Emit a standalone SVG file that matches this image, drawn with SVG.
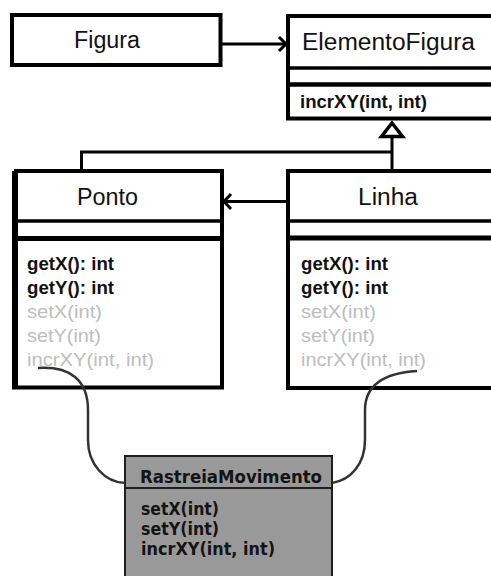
<svg xmlns="http://www.w3.org/2000/svg" width="491" height="576" viewBox="0 0 491 576">
  <defs>
    <style>
      .box { fill: #ffffff; stroke: #000000; stroke-width: 4; }
      .sep { stroke: #000000; }
      .title { font-family: "Liberation Sans", Arial, sans-serif; font-size: 23px; fill: #111111; }
      .op { font-family: "Liberation Sans", Arial, sans-serif; font-size: 19px; fill: #111111; font-weight: bold; }
      .op-dim { font-family: "Liberation Sans", Arial, sans-serif; font-size: 19px; fill: #bdbdbd; }
      .aspect { fill: #999999; stroke: #1e1e1e; stroke-width: 2; }
      .aspect-text { font-family: "DejaVu Sans", Verdana, sans-serif; font-weight: bold; fill: #141414; }
      .line { fill: none; stroke: #000000; stroke-width: 3; }
      .arrow { fill: none; stroke: #000000; stroke-width: 3; stroke-linejoin: miter; }
      .cut { fill: none; stroke: #333333; stroke-width: 2.5; }
    </style>
  </defs>

  <rect width="491" height="576" fill="#ffffff"/>

  <!-- Figura class -->
  <g id="figura">
    <rect class="box" x="12" y="15" width="208.5" height="50"/>
    <text class="title" x="74" y="48" textLength="66" lengthAdjust="spacingAndGlyphs">Figura</text>
  </g>

  <!-- ElementoFigura class -->
  <g id="elemento-figura">
    <rect class="box" x="288" y="16" width="215" height="102.5" stroke-width="4.5"/>
    <line class="sep" x1="288" y1="68" x2="503" y2="68" stroke-width="3.5"/>
    <line class="sep" x1="288" y1="84.5" x2="503" y2="84.5" stroke-width="4.5"/>
    <text class="title" x="302" y="50" textLength="173" lengthAdjust="spacingAndGlyphs">ElementoFigura</text>
    <text class="op" x="300" y="108" textLength="127" lengthAdjust="spacingAndGlyphs">incrXY(int, int)</text>
  </g>

  <!-- Ponto class -->
  <g id="ponto">
    <rect class="box" x="16" y="171" width="206" height="216.5"/>
    <line class="sep" x1="13" y1="171" x2="13" y2="389.5" stroke-width="2"/>
    <line class="sep" x1="16" y1="221" x2="222" y2="221" stroke-width="3.5"/>
    <line class="sep" x1="16" y1="238.5" x2="222" y2="238.5" stroke-width="5"/>
    <text class="title" x="77" y="205" textLength="61" lengthAdjust="spacingAndGlyphs">Ponto</text>
    <text class="op" x="27" y="270" textLength="87" lengthAdjust="spacingAndGlyphs">getX(): int</text>
    <text class="op" x="27" y="294" textLength="87" lengthAdjust="spacingAndGlyphs">getY(): int</text>
    <text class="op-dim" x="27" y="318" textLength="75" lengthAdjust="spacingAndGlyphs">setX(int)</text>
    <text class="op-dim" x="27" y="342" textLength="74" lengthAdjust="spacingAndGlyphs">setY(int)</text>
    <text class="op-dim" x="27" y="366" textLength="127" lengthAdjust="spacingAndGlyphs">incrXY(int, int)</text>
  </g>

  <!-- Linha class -->
  <g id="linha">
    <rect class="box" x="288" y="171" width="215" height="217"/>
    <line class="sep" x1="288" y1="221" x2="503" y2="221" stroke-width="3.5"/>
    <line class="sep" x1="288" y1="238" x2="503" y2="238" stroke-width="5"/>
    <text class="title" x="358" y="205" textLength="60" lengthAdjust="spacingAndGlyphs">Linha</text>
    <text class="op" x="301" y="270" textLength="87" lengthAdjust="spacingAndGlyphs">getX(): int</text>
    <text class="op" x="301" y="294" textLength="87" lengthAdjust="spacingAndGlyphs">getY(): int</text>
    <text class="op-dim" x="301" y="318" textLength="75" lengthAdjust="spacingAndGlyphs">setX(int)</text>
    <text class="op-dim" x="301" y="342" textLength="74" lengthAdjust="spacingAndGlyphs">setY(int)</text>
    <text class="op-dim" x="301" y="366" textLength="125" lengthAdjust="spacingAndGlyphs">incrXY(int, int)</text>
  </g>

  <!-- RastreiaMovimento aspect -->
  <g id="rastreia-movimento">
    <rect class="aspect" x="125" y="456" width="207" height="130"/>
    <line x1="125" y1="488" x2="332" y2="488" stroke="#1e1e1e" stroke-width="2"/>
    <text class="aspect-text" x="140" y="483" font-size="18" textLength="182" lengthAdjust="spacingAndGlyphs">RastreiaMovimento</text>
    <text class="aspect-text" x="141" y="515" font-size="17" textLength="78" lengthAdjust="spacingAndGlyphs">setX(int)</text>
    <text class="aspect-text" x="141" y="535" font-size="17" textLength="78" lengthAdjust="spacingAndGlyphs">setY(int)</text>
    <text class="aspect-text" x="141" y="555" font-size="17" textLength="134" lengthAdjust="spacingAndGlyphs">incrXY(int, int)</text>
  </g>

  <!-- Connectors -->
  <g id="connectors">
    <!-- Figura -> ElementoFigura association -->
    <line class="line" x1="221" y1="44" x2="285" y2="44"/>
    <polyline class="arrow" points="279,37 286,44 279,51"/>

    <!-- Linha -> Ponto association -->
    <line class="line" x1="286" y1="201.5" x2="225" y2="201.5"/>
    <polyline class="arrow" points="231,194 224,201.5 231,209"/>

    <!-- Generalization to ElementoFigura -->
    <path class="line" d="M 392 169 V 137 M 393.5 152 H 81.5 V 169"/>
    <polygon points="392,123 381.5,136.5 402.5,136.5" fill="#ffffff" stroke="#000000" stroke-width="3.5" stroke-linejoin="miter"/>

    <!-- Aspect crosscut curves -->
    <path class="cut" d="M 38 368 C 70 366, 88 380, 88 410 L 88 440 C 88 465, 105 482, 125 483"/>
    <path class="cut" d="M 417 371 C 385 373, 365 385, 365 410 L 365 440 C 365 465, 350 480, 332 483"/>
  </g>
</svg>
